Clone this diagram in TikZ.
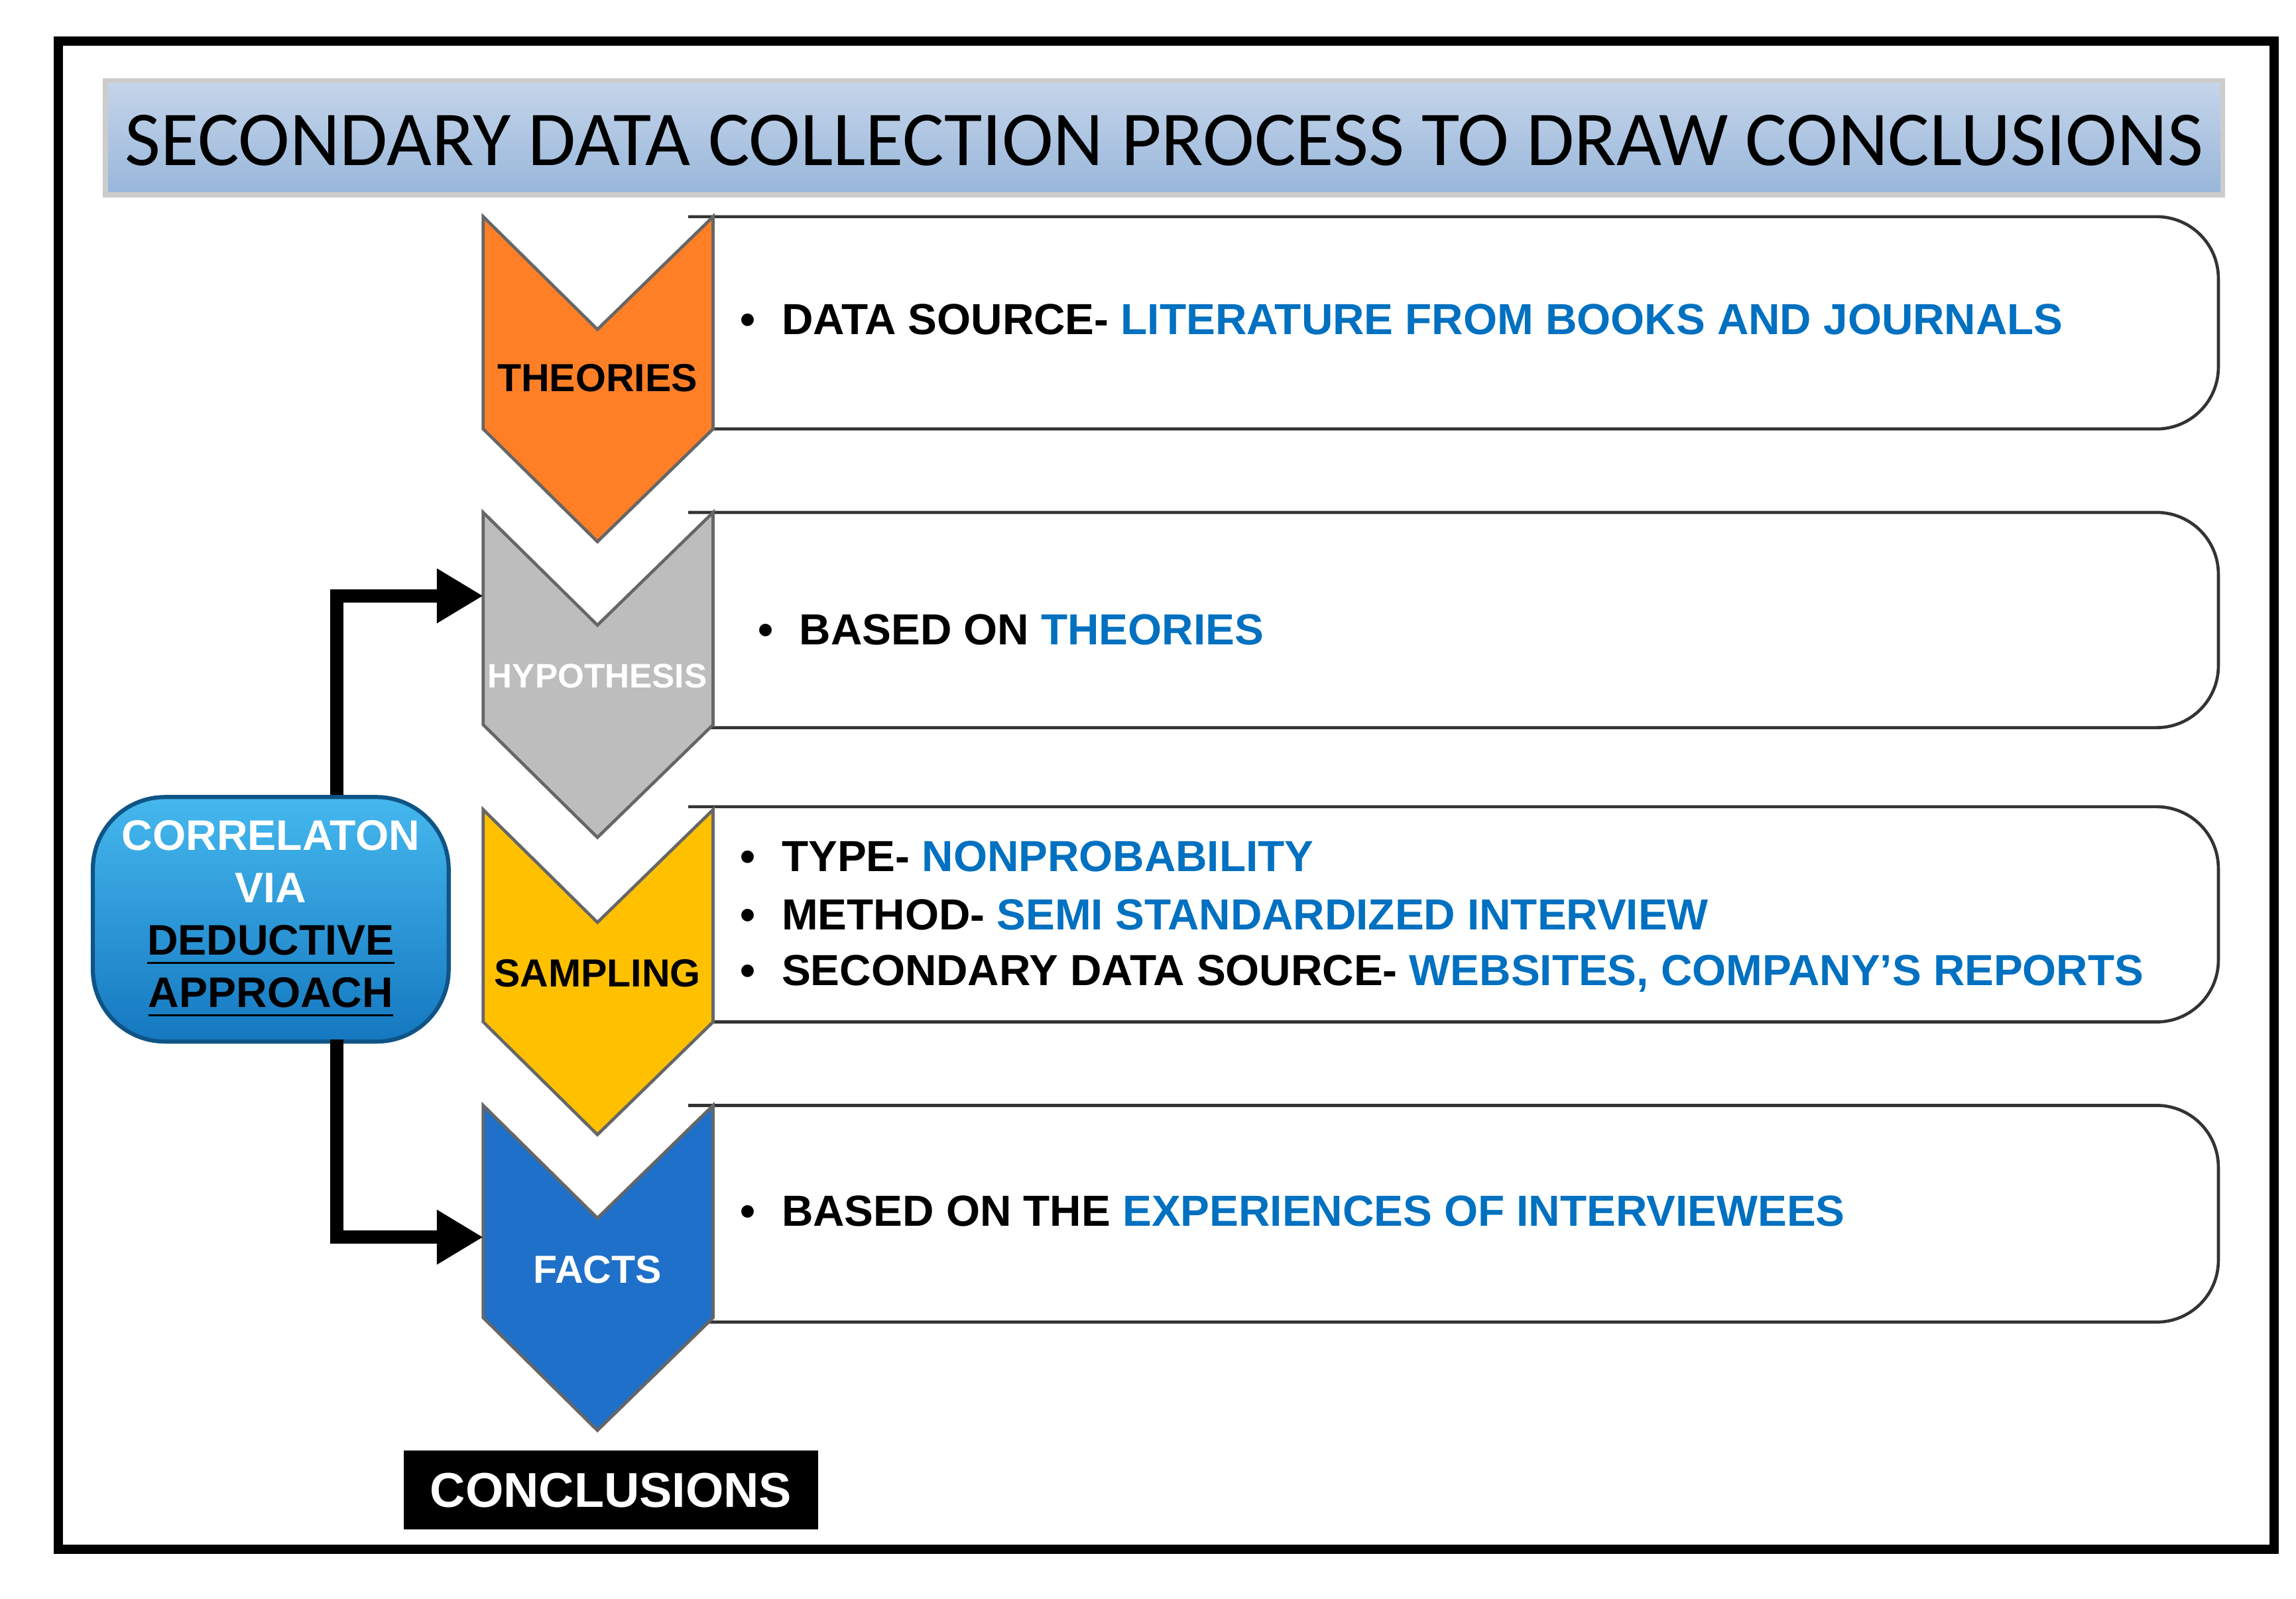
\documentclass[tikz,border=0pt]{standalone}
\usepackage{fontspec}
\setmainfont{Liberation Sans}
\newfontfamily\titlefont{Carlito}
\usetikzlibrary{arrows.meta}
\definecolor{bluetxt}{HTML}{0070C0}
\definecolor{orng}{HTML}{FF7F27}
\definecolor{gry}{HTML}{BDBDBD}
\definecolor{yel}{HTML}{FFC000}
\definecolor{blu}{HTML}{1F70C8}
\definecolor{ttop}{HTML}{C5D5EA}
\definecolor{tbot}{HTML}{98B6DA}
\definecolor{ctop}{HTML}{45B8EE}
\definecolor{cbot}{HTML}{1578C0}
\begin{document}
\begin{tikzpicture}[x=0.01cm,y=-0.01cm,
  box/.style={draw=black!80,line width=0.6pt,rounded corners=12pt,fill=white},
  chev/.style={draw=black!60,line width=0.6pt},
  txt/.style={anchor=west,font=\bfseries\fontsize{8.45}{10}\selectfont,inner sep=0pt},
  lab/.style={font=\bfseries\fontsize{7.6}{9}\selectfont},
  conn/.style={line width=2.6pt,-{Triangle[length=9pt,width=10pt]}}]
\useasboundingbox (0,0) rectangle (1568,1092);
\draw[line width=1.8pt] (40,28) rectangle (1553,1058);
% title
\path[draw=black!20,line width=1pt,top color=ttop,bottom color=tbot] (72,55) rectangle (1518,133);
\node[inner sep=0pt,font=\titlefont\fontsize{15.1}{17}\selectfont] (title) at (795,96) {SECONDARY DATA COLLECTION PROCESS TO DRAW CONCLUSIONS};
% boxes
\foreach \t/\b in {148/293,350/497,551/698,755/903}{
  \draw[box] (470,\t) -- (1515,\t) -- (1515,\b) -- (470,\b);
}
% chevrons
\foreach \t/\c/\n/\o in {148/orng/th/57,350/gry/hy/57,553/yel/sa/57,755/blu/fa/90}{
  \path[chev,fill=\c] (330,\t) -- (408,\t+77) -- (487,\t) -- (487,\t+145) -- (408,\t+222) -- (330,\t+145) -- cycle;
  \coordinate (\n) at (330,\t+\o);
}
\node[lab] (l1) at (408,258) {THEORIES};
\node[lab,white,font=\bfseries\fontsize{6.6}{8}\selectfont] (l2) at (408,462) {HYPOTHESIS};
\node[lab] (l3) at (408,665) {SAMPLING};
\node[lab,white] (l4) at (408,867) {FACTS};
% texts
\node[txt] (t1) at (505,218) {•\hspace{0.6em}DATA SOURCE- \textcolor{bluetxt}{LITERATURE FROM BOOKS AND JOURNALS}};
\node[txt] (t2) at (517,430) {•\hspace{0.6em}BASED ON \textcolor{bluetxt}{THEORIES}};
\node[txt] (t3) at (505,585) {•\hspace{0.6em}TYPE- \textcolor{bluetxt}{NONPROBABILITY}};
\node[txt] (t4) at (505,625) {•\hspace{0.6em}METHOD- \textcolor{bluetxt}{SEMI STANDARDIZED INTERVIEW}};
\node[txt] (t5) at (505,665) {•\hspace{0.6em}SECONDARY DATA SOURCE- \textcolor{bluetxt}{WEBSITES, COMPANY’S REPORTS}};
\node[txt] (t6) at (505,827) {•\hspace{0.6em}BASED ON THE \textcolor{bluetxt}{EXPERIENCES OF INTERVIEWEES}};
% correlation box
\node[draw=cbot!70!black,line width=0.8pt,rounded corners=14pt,top color=ctop,bottom color=cbot,
  minimum width=243*0.01cm,minimum height=167*0.01cm,anchor=north west,inner sep=0pt,align=center,
  font=\bfseries\fontsize{8.3}{10.2}\selectfont,text=white] (corr) at (62,543)
  {CORRELATON\\VIA\\\textcolor{black}{\underline{DEDUCTIVE}}\\\textcolor{black}{\underline{APPROACH}}};
\coordinate (ct) at (230,543);
\coordinate (cb) at (230,710);
\draw[conn] (ct) |- (hy);
\draw[conn] (cb) |- (fa);
% conclusions
\node[fill=black,text=white,minimum width=283*0.01cm,minimum height=54*0.01cm,anchor=north west,inner sep=0pt,
  font=\bfseries\fontsize{9.5}{11}\selectfont] (conc) at (275,990) {CONCLUSIONS};
\end{tikzpicture}
\end{document}
